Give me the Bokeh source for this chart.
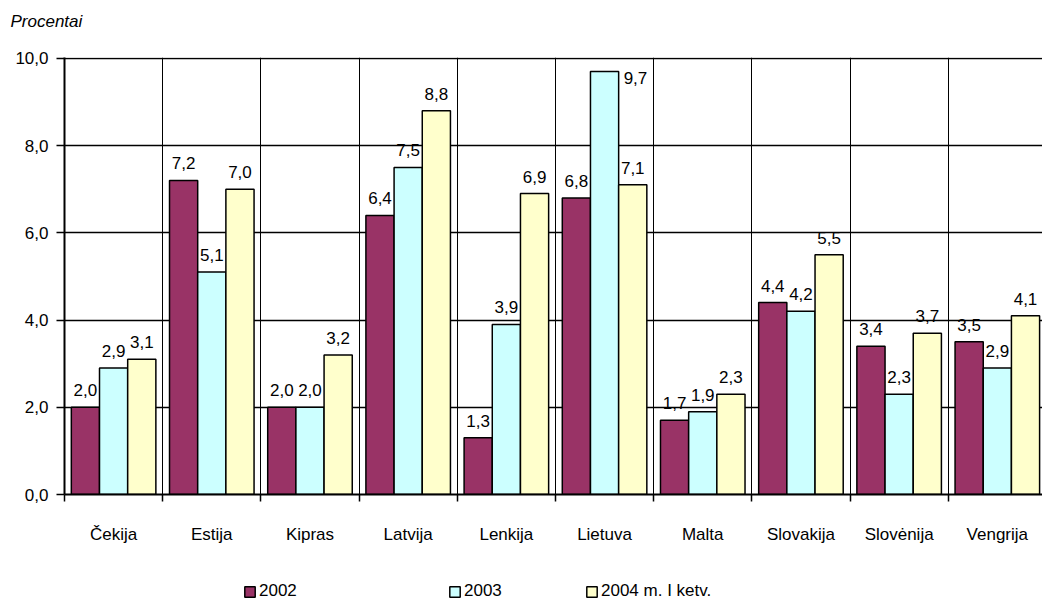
from bokeh.plotting import figure
from bokeh.models import (Range1d, FixedTicker, ColumnDataSource, LabelSet,
                          Legend, LegendItem, Title)
from bokeh.layouts import column
from bokeh.core.properties import value
from bokeh.embed import file_html
from bokeh.resources import INLINE

categories = ["Čekija", "Estija", "Kipras", "Latvija", "Lenkija",
              "Lietuva", "Malta", "Slovakija", "Slovėnija", "Vengrija"]
v2002 = [2.0, 7.2, 2.0, 6.4, 1.3, 6.8, 1.7, 4.4, 3.4, 3.5]
v2003 = [2.9, 5.1, 2.0, 7.5, 3.9, 9.7, 1.9, 4.2, 2.3, 2.9]
v2004 = [3.1, 7.0, 3.2, 8.8, 6.9, 7.1, 2.3, 5.5, 3.7, 4.1]
series_names = ["2002", "2003", "2004 m. I ketv."]
y_ticks = [0, 2, 4, 6, 8, 10]

FONT = "Liberation Sans"
colors = ["#993366", "#CCFFFF", "#FFFFCC"]
bar_w = 0.287
n = len(categories)
centers = [i + 0.5 for i in range(n)]
bounds = list(range(n + 1))
Y_MAX = 10.02
X_MAX = 9.96


def fmt(v):
    return f"{v:.1f}".replace(".", ",")


def strip(height):
    f = figure(width=1042, height=height, x_range=Range1d(0, X_MAX),
               y_range=Range1d(0, Y_MAX), output_backend="svg",
               toolbar_location=None, x_axis_location=None,
               y_axis_location=None, min_border_left=64, min_border_right=0,
               min_border_top=0, min_border_bottom=0)
    f.outline_line_color = None
    f.xgrid.visible = False
    f.ygrid.visible = False
    return f


# top strip holding the unit caption
top = strip(46)
top.add_layout(Title(text="Procentai", align="left", vertical_align="top",
                     offset=-54, standoff=22, text_font=FONT,
                     text_font_size="17px", text_font_style="italic",
                     text_color="black"), "above")

p = figure(width=1042, height=524,
           x_range=Range1d(0, X_MAX), y_range=Range1d(0, Y_MAX),
           output_backend="svg", toolbar_location=None,
           min_border_left=64, min_border_right=0,
           min_border_top=11, min_border_bottom=76)
p.outline_line_color = None
p.background_fill_color = "white"
p.border_fill_color = "white"

# x axis
xa = p.xaxis[0]
xa.ticker = FixedTicker(ticks=centers, minor_ticks=bounds)
xa.major_label_overrides = {c: name for c, name in zip(centers, categories)}
xa.major_tick_line_color = None
xa.major_tick_out = 0
xa.major_tick_in = 0
xa.minor_tick_out = 7
xa.minor_tick_in = 0
xa.minor_tick_line_color = "black"
xa.minor_tick_line_width = 1.5
xa.axis_line_color = "black"
xa.axis_line_width = 2
xa.major_label_standoff = 23
xa.major_label_text_font = FONT
xa.major_label_text_font_size = "17px"
xa.major_label_text_color = "black"

# y axis
ya = p.yaxis[0]
ya.ticker = FixedTicker(ticks=y_ticks)
ya.major_label_overrides = {v: fmt(v) for v in y_ticks}
ya.minor_tick_line_color = None
ya.major_tick_out = 8
ya.major_tick_in = 0
ya.major_tick_line_color = "black"
ya.major_tick_line_width = 1.5
ya.axis_line_color = "black"
ya.axis_line_width = 2
ya.major_label_standoff = 8
ya.major_label_text_font = FONT
ya.major_label_text_font_size = "17px"
ya.major_label_text_color = "black"

p.xgrid.ticker = FixedTicker(ticks=bounds[1:-1])
p.xgrid.grid_line_color = "black"
p.xgrid.grid_line_width = 1
p.ygrid.ticker = FixedTicker(ticks=y_ticks[1:])
p.ygrid.grid_line_color = "black"
p.ygrid.grid_line_width = 1.5

series = [v2002, v2003, v2004]
for k, vals in enumerate(series):
    xs = [c + (k - 1) * bar_w for c in centers]
    src = ColumnDataSource(dict(x=xs, top=vals, txt=[fmt(v) for v in vals]))
    p.vbar(x="x", top="top", bottom=0, width=bar_w, source=src,
           fill_color=colors[k], line_color="black", line_width=1.5)
    # labels above the bar when there is room under the top gridline
    above = [i for i, v in enumerate(vals) if v <= 9.3]
    side = [i for i, v in enumerate(vals) if v > 9.3]
    src_a = ColumnDataSource(dict(x=[xs[i] for i in above],
                                  y=[vals[i] for i in above],
                                  txt=[fmt(vals[i]) for i in above]))
    p.add_layout(LabelSet(x="x", y="y", text="txt", source=src_a,
                          y_offset=11, text_align="center",
                          text_baseline="bottom", text_font=value(FONT),
                          text_font_size="17px", text_color="black"))
    if side:
        src_s = ColumnDataSource(dict(x=[xs[i] + bar_w / 2 for i in side],
                                      y=[vals[i] for i in side],
                                      txt=[fmt(vals[i]) for i in side]))
        p.add_layout(LabelSet(x="x", y="y", text="txt", source=src_s,
                              x_offset=5, y_offset=-1, text_align="left",
                              text_baseline="top", text_font=value(FONT),
                              text_font_size="17px", text_color="black"))

# legend strip (its frame is aligned with the main plot's frame)
lf = strip(32)
for k, name in enumerate(series_names):
    r = lf.vbar(x=centers, top=series[k], width=bar_w, fill_color=colors[k],
                line_color="black", line_width=1.5)
    r.visible = False
    lg = Legend(items=[LegendItem(label=name, renderers=[r])],
                location=([179, 384, 521][k], 1), orientation="horizontal",
                border_line_color=None, background_fill_alpha=0,
                padding=0, margin=0, glyph_width=13, glyph_height=13,
                label_standoff=3, label_text_font=FONT,
                label_text_color="black",
                label_text_font_size="17px", label_height=16, spacing=0)
    lf.add_layout(lg, "center")

open("out.html", "w").write(file_html(column(top, p, lf), INLINE))
